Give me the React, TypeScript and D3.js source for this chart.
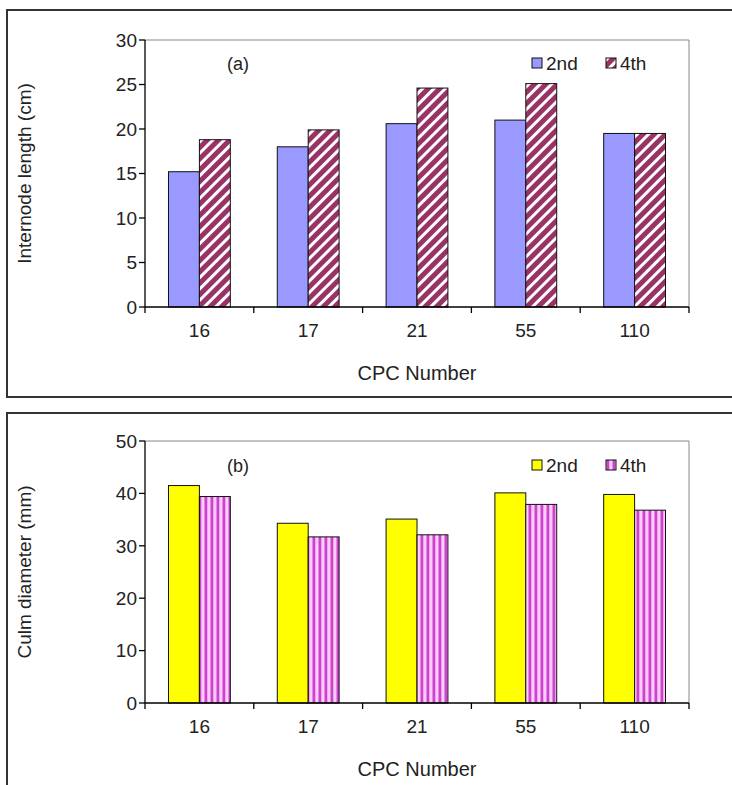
import React from "react";
import * as d3 from "d3";

const categories = ["16", "17", "21", "55", "110"];
const seriesNames = ["2nd", "4th"];

const internode2nd = [15.2, 18.0, 20.6, 21.0, 19.5];
const internode4th = [18.8, 19.9, 24.6, 25.1, 19.5];
const internodeTicks = [0, 5, 10, 15, 20, 25, 30];

const culm2nd = [41.5, 34.3, 35.1, 40.1, 39.8];
const culm4th = [39.4, 31.7, 32.1, 37.9, 36.8];
const culmTicks = [0, 10, 20, 30, 40, 50];

const FONT = "'Liberation Sans', Arial, sans-serif";

const plotLeft = 145;
const plotRight = 689;

type PanelProps = {
  top: number;
  bottom: number;
  frameTop: number;
  frameBottom: number | null;
  label: string;
  yTitle: string;
  ticks: number[];
  s2: number[];
  s4: number[];
  fill2: string;
  fill4: string;
  legendY: number;
};

const Panel = ({ top, bottom, frameTop, frameBottom, label, yTitle, ticks, s2, s4, fill2, fill4, legendY }: PanelProps) => {
  const x = d3.scaleBand<string>().domain(categories).range([plotLeft, plotRight]).padding(0);
  const inner = d3.scaleBand<string>().domain(seriesNames).range([0, x.bandwidth()]).paddingOuter(0.76).paddingInner(0);
  const y = d3.scaleLinear().domain([0, ticks[ticks.length - 1]]).range([bottom, top]);
  const values = [s2, s4];
  const fills = [fill2, fill4];
  const boundaries = [...categories.map((c) => x(c) as number), plotRight];

  // frame is open on the right (cropped in the original)
  const frame =
    frameBottom === null
      ? `M740,${frameTop}H7V800`
      : `M740,${frameTop}H7V${frameBottom}H740`;

  return (
    <g>
      <path d={frame} fill="none" stroke="#333" strokeWidth={2} />
      <path d={`M${plotLeft},${top}H${plotRight}V${bottom}`} fill="none" stroke="#888" strokeWidth={1} />

      {categories.map((c, i) =>
        seriesNames.map((s, j) => (
          <rect
            key={c + s}
            x={(x(c) as number) + (inner(s) as number)}
            y={y(values[j][i])}
            width={inner.bandwidth()}
            height={bottom - y(values[j][i])}
            fill={fills[j]}
            stroke="#111"
            strokeWidth={1}
          />
        ))
      )}

      <line x1={plotLeft} x2={plotLeft} y1={top} y2={bottom} stroke="#000" strokeWidth={1.3} />
      <line x1={plotLeft} x2={plotRight} y1={bottom} y2={bottom} stroke="#000" strokeWidth={1.3} />
      {ticks.map((t) => (
        <g key={t}>
          <line x1={plotLeft - 6} x2={plotLeft} y1={y(t)} y2={y(t)} stroke="#000" strokeWidth={1.3} />
          <text x={plotLeft - 8} y={y(t)} dy="0.36em" textAnchor="end" fontFamily={FONT} fontSize={19} fill="#222">
            {t}
          </text>
        </g>
      ))}
      {boundaries.map((b, i) => (
        <line key={i} x1={b} x2={b} y1={bottom} y2={bottom + 6} stroke="#000" strokeWidth={1.3} />
      ))}
      {categories.map((c) => (
        <text
          key={c}
          x={(x(c) as number) + x.bandwidth() / 2}
          y={bottom + 30}
          textAnchor="middle"
          fontFamily={FONT}
          fontSize={19}
          fill="#222"
        >
          {c}
        </text>
      ))}
      <text x={(plotLeft + plotRight) / 2} y={bottom + 73} textAnchor="middle" fontFamily={FONT} fontSize={20} fill="#222">
        CPC Number
      </text>
      <text
        transform={`translate(31,${(top + bottom) / 2}) rotate(-90)`}
        textAnchor="middle"
        fontFamily={FONT}
        fontSize={19}
        fill="#222"
      >
        {yTitle}
      </text>
      <text x={238} y={legendY + 6} textAnchor="middle" fontFamily={FONT} fontSize={18} fill="#222">
        {label}
      </text>

      {seriesNames.map((s, j) => (
        <g key={s} transform={`translate(${532 + j * 74},${legendY - 6})`}>
          <rect x={0} y={0} width={10} height={10} fill={fills[j]} stroke="#111" strokeWidth={1} />
          <text x={14} y={12} fontFamily={FONT} fontSize={19} fill="#222">
            {s}
          </text>
        </g>
      ))}
    </g>
  );
};

export default function App() {
  return (
    <svg
      width={732}
      height={785}
      style={{ position: "absolute", left: 0, top: 0, background: "#fff" }}
    >
      <defs>
        <pattern id="diag" width={8} height={8} patternUnits="userSpaceOnUse" patternTransform="rotate(45)">
          <rect width={8} height={8} fill="#993366" />
          <rect width={3} height={8} fill="#fff" />
        </pattern>
        <pattern id="vert" width={6} height={6} patternUnits="userSpaceOnUse">
          <rect width={6} height={6} fill="#ffccff" />
          <rect x={0.5} width={2.8} height={6} fill="#cc44cc" />
        </pattern>
      </defs>
      <rect width={732} height={785} fill="#fff" />
      <Panel
        top={40}
        bottom={307}
        frameTop={10}
        frameBottom={397}
        label="(a)"
        yTitle="Internode length (cm)"
        ticks={internodeTicks}
        s2={internode2nd}
        s4={internode4th}
        fill2="#9999ff"
        fill4="url(#diag)"
        legendY={64}
      />
      <Panel
        top={441}
        bottom={703}
        frameTop={413}
        frameBottom={null}
        label="(b)"
        yTitle="Culm diameter (mm)"
        ticks={culmTicks}
        s2={culm2nd}
        s4={culm4th}
        fill2="#ffff00"
        fill4="url(#vert)"
        legendY={466}
      />
    </svg>
  );
}
